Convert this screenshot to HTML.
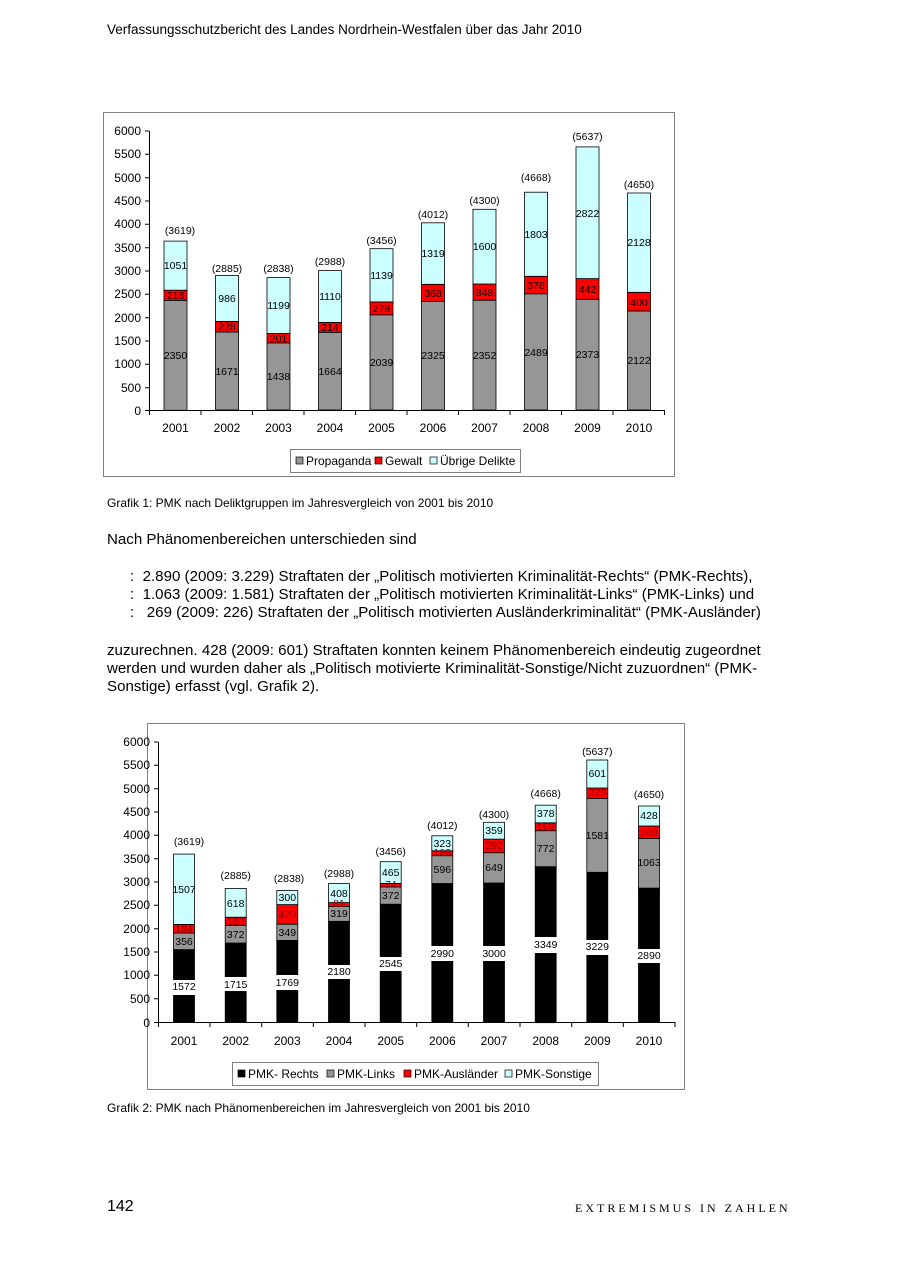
<!DOCTYPE html>
<html><head><meta charset="utf-8"><style>
body{margin:0;background:#fff;}
#p{position:relative;width:900px;height:1272px;overflow:hidden;font-family:"Liberation Sans",sans-serif;color:#000;}
.t{position:absolute;white-space:nowrap;}
.b{font-size:15.1px;}
</style></head><body><div id="p">
<div class="t" style="left:107px;top:22px;font-size:13.5px;">Verfassungsschutzbericht des Landes Nordrhein-Westfalen über das Jahr 2010</div>
<div class="t" style="left:107px;top:496px;font-size:12px;">Grafik 1: PMK nach Deliktgruppen im Jahresvergleich von 2001 bis 2010</div>
<div class="t b" style="left:107px;top:531px;">Nach Phänomenbereichen unterschieden sind</div>
<div class="t b" style="left:130px;top:568px;">:&nbsp; 2.890 (2009: 3.229) Straftaten der „Politisch motivierten Kriminalität-Rechts“ (PMK-Rechts),</div>
<div class="t b" style="left:130px;top:586px;">:&nbsp; 1.063 (2009: 1.581) Straftaten der „Politisch motivierten Kriminalität-Links“ (PMK-Links) und</div>
<div class="t b" style="left:130px;top:604px;">:&nbsp;&nbsp; 269 (2009: 226) Straftaten der „Politisch motivierten Ausländerkriminalität“ (PMK-Ausländer)</div>
<div class="t b" style="left:107px;top:642px;">zuzurechnen. 428 (2009: 601) Straftaten konnten keinem Phänomenbereich eindeutig zugeordnet</div>
<div class="t b" style="left:107px;top:660px;">werden und wurden daher als „Politisch motivierte Kriminalität-Sonstige/Nicht zuzuordnen“ (PMK-</div>
<div class="t b" style="left:107px;top:678px;">Sonstige) erfasst (vgl. Grafik 2).</div>
<div class="t" style="left:107px;top:1101px;font-size:12px;">Grafik 2: PMK nach Phänomenbereichen im Jahresvergleich von 2001 bis 2010</div>
<div class="t" style="left:107px;top:1198px;font-size:16px;">142</div>
<div class="t" style="left:575px;top:1201px;font-size:12px;font-family:'Liberation Serif',serif;letter-spacing:3px;">EXTREMISMUS IN ZAHLEN</div>

<svg width="900" height="1272" style="position:absolute;left:0;top:0" font-family="Liberation Sans, sans-serif">
<!-- chart 1 -->
<rect x="103.5" y="112.5" width="571" height="364" fill="none" stroke="#808080"/>
<g stroke="#000" stroke-width="1">
<line x1="149.5" y1="131" x2="149.5" y2="411"/><line x1="149" y1="410.5" x2="665" y2="410.5"/>
<path d="M145 131h4M145 154.3h4M145 177.7h4M145 201h4M145 224.3h4M145 247.7h4M145 271h4M145 294.3h4M145 317.7h4M145 341h4M145 364.3h4M145 387.7h4M145 410.5h4"/>
<path d="M149.5 410v5M201 410v5M252.5 410v5M304 410v5M355.5 410v5M407 410v5M458.5 410v5M510 410v5M561.5 410v5M613 410v5M664.5 410v5"/>
</g>
<g font-size="12" text-anchor="end"><text x="141" y="135">6000</text><text x="141" y="158">5500</text><text x="141" y="182">5000</text><text x="141" y="205">4500</text><text x="141" y="228">4000</text><text x="141" y="252">3500</text><text x="141" y="275">3000</text><text x="141" y="298">2500</text><text x="141" y="322">2000</text><text x="141" y="345">1500</text><text x="141" y="368">1000</text><text x="141" y="392">500</text><text x="141" y="415">0</text></g>
<g font-size="12" text-anchor="middle"><text x="175.5" y="432">2001</text><text x="227" y="432">2002</text><text x="278.5" y="432">2003</text><text x="330" y="432">2004</text><text x="381.5" y="432">2005</text><text x="433" y="432">2006</text><text x="484.5" y="432">2007</text><text x="536" y="432">2008</text><text x="587.5" y="432">2009</text><text x="639" y="432">2010</text></g>
<g stroke="#000" stroke-width="0.8">
<rect x="164" y="300.3" width="23" height="110" fill="#969696"/><rect x="164" y="290.2" width="23" height="10.1" fill="#f00"/><rect x="164" y="241.1" width="23" height="49.1" fill="#cff"/>
<rect x="215.5" y="332" width="23" height="78" fill="#969696"/><rect x="215.5" y="321.4" width="23" height="10.6" fill="#f00"/><rect x="215.5" y="275.4" width="23" height="46" fill="#cff"/>
<rect x="267" y="342.9" width="23" height="67.1" fill="#969696"/><rect x="267" y="333.5" width="23" height="9.4" fill="#f00"/><rect x="267" y="277.6" width="23" height="55.9" fill="#cff"/>
<rect x="318.5" y="332.3" width="23" height="77.7" fill="#969696"/><rect x="318.5" y="322.4" width="23" height="9.9" fill="#f00"/><rect x="318.5" y="270.6" width="23" height="51.8" fill="#cff"/>
<rect x="370" y="314.8" width="23" height="95.2" fill="#969696"/><rect x="370" y="301.9" width="23" height="12.9" fill="#f00"/><rect x="370" y="248.7" width="23" height="53.2" fill="#cff"/>
<rect x="421.5" y="301.5" width="23" height="108.5" fill="#969696"/><rect x="421.5" y="284.3" width="23" height="17.2" fill="#f00"/><rect x="421.5" y="222.8" width="23" height="61.5" fill="#cff"/>
<rect x="473" y="300.2" width="23" height="109.8" fill="#969696"/><rect x="473" y="284" width="23" height="16.2" fill="#f00"/><rect x="473" y="209.3" width="23" height="74.7" fill="#cff"/>
<rect x="524.5" y="293.8" width="23" height="116.2" fill="#969696"/><rect x="524.5" y="276.3" width="23" height="17.5" fill="#f00"/><rect x="524.5" y="192.2" width="23" height="84.1" fill="#cff"/>
<rect x="576" y="299.3" width="23" height="110.7" fill="#969696"/><rect x="576" y="278.6" width="23" height="20.7" fill="#f00"/><rect x="576" y="146.9" width="23" height="131.7" fill="#cff"/>
<rect x="627.5" y="311" width="23" height="99" fill="#969696"/><rect x="627.5" y="292.3" width="23" height="18.7" fill="#f00"/><rect x="627.5" y="193" width="23" height="99.3" fill="#cff"/>
</g>
<g font-size="10.5" text-anchor="middle">
<text x="175.5" y="359">2350</text><text x="175.5" y="299">218</text><text x="175.5" y="269">1051</text><text x="180" y="234">(3619)</text>
<text x="227" y="375">1671</text><text x="227" y="330">228</text><text x="227" y="302">986</text><text x="227" y="272">(2885)</text>
<text x="278.5" y="380">1438</text><text x="278.5" y="342">201</text><text x="278.5" y="309">1199</text><text x="278.5" y="272">(2838)</text>
<text x="330" y="375">1664</text><text x="330" y="331">214</text><text x="330" y="300">1110</text><text x="330" y="265">(2988)</text>
<text x="381.5" y="366">2039</text><text x="381.5" y="312">278</text><text x="381.5" y="279">1139</text><text x="381.5" y="244">(3456)</text>
<text x="433" y="359">2325</text><text x="433" y="297">368</text><text x="433" y="257">1319</text><text x="433" y="218">(4012)</text>
<text x="484.5" y="359">2352</text><text x="484.5" y="296">348</text><text x="484.5" y="250">1600</text><text x="484.5" y="204">(4300)</text>
<text x="536" y="356">2489</text><text x="536" y="289">376</text><text x="536" y="238">1803</text><text x="536" y="181">(4668)</text>
<text x="587.5" y="358">2373</text><text x="587.5" y="293">442</text><text x="587.5" y="217">2822</text><text x="587.5" y="140">(5637)</text>
<text x="639" y="364">2122</text><text x="639" y="306">400</text><text x="639" y="246">2128</text><text x="639" y="188">(4650)</text>
</g>
<rect x="290.5" y="449.5" width="230" height="23" fill="#fff" stroke="#808080"/>
<rect x="296" y="457" width="7" height="7" fill="#969696" stroke="#000" stroke-width="0.7"/><text x="306" y="465" font-size="12">Propaganda</text>
<rect x="375" y="457" width="7" height="7" fill="#f00" stroke="#000" stroke-width="0.7"/><text x="385" y="465" font-size="12">Gewalt</text>
<rect x="430" y="457" width="7" height="7" fill="#cff" stroke="#000" stroke-width="0.7"/><text x="440" y="465" font-size="12">Übrige Delikte</text>

<!-- chart 2 -->
<rect x="147.5" y="723.5" width="537" height="366" fill="none" stroke="#808080"/>
<g stroke="#000" stroke-width="1">
<line x1="158.5" y1="742" x2="158.5" y2="1023"/><line x1="158" y1="1022.5" x2="675" y2="1022.5"/>
<path d="M154 742h4M154 765.3h4M154 788.7h4M154 812h4M154 835.3h4M154 858.7h4M154 882h4M154 905.3h4M154 928.7h4M154 952h4M154 975.3h4M154 998.7h4M154 1022.5h4"/>
<path d="M158.5 1022v5M210 1022v5M261.7 1022v5M313.3 1022v5M365 1022v5M416.7 1022v5M468.3 1022v5M520 1022v5M571.7 1022v5M623.3 1022v5M675 1022v5"/>
</g>
<g font-size="12" text-anchor="end"><text x="150" y="746">6000</text><text x="150" y="769">5500</text><text x="150" y="793">5000</text><text x="150" y="816">4500</text><text x="150" y="839">4000</text><text x="150" y="863">3500</text><text x="150" y="886">3000</text><text x="150" y="909">2500</text><text x="150" y="933">2000</text><text x="150" y="956">1500</text><text x="150" y="979">1000</text><text x="150" y="1003">500</text><text x="150" y="1027">0</text></g>
<g font-size="12" text-anchor="middle"><text x="184" y="1045">2001</text><text x="235.7" y="1045">2002</text><text x="287.3" y="1045">2003</text><text x="339" y="1045">2004</text><text x="390.7" y="1045">2005</text><text x="442.3" y="1045">2006</text><text x="494" y="1045">2007</text><text x="545.7" y="1045">2008</text><text x="597.3" y="1045">2009</text><text x="649" y="1045">2010</text></g>
<g stroke="#000" stroke-width="0.8">
<rect x="173.5" y="949.6" width="21" height="73" fill="#000"/><rect x="173.5" y="933" width="21" height="16.6" fill="#969696"/><rect x="173.5" y="924.4" width="21" height="8.6" fill="#f00"/><rect x="173.5" y="854.1" width="21" height="70.3" fill="#cff"/>
<rect x="225.2" y="943" width="21" height="79.5" fill="#000"/><rect x="225.2" y="925.6" width="21" height="17.4" fill="#969696"/><rect x="225.2" y="917.2" width="21" height="8.4" fill="#f00"/><rect x="225.2" y="888.4" width="21" height="28.8" fill="#cff"/>
<rect x="276.8" y="940.4" width="21" height="82" fill="#000"/><rect x="276.8" y="924.2" width="21" height="16.2" fill="#969696"/><rect x="276.8" y="904.6" width="21" height="19.6" fill="#f00"/><rect x="276.8" y="890.6" width="21" height="14" fill="#cff"/>
<rect x="328.5" y="921.3" width="21" height="101" fill="#000"/><rect x="328.5" y="906.4" width="21" height="14.9" fill="#969696"/><rect x="328.5" y="902.6" width="21" height="3.8" fill="#f00"/><rect x="328.5" y="883.6" width="21" height="19" fill="#cff"/>
<rect x="380.2" y="904.2" width="21" height="118" fill="#000"/><rect x="380.2" y="886.9" width="21" height="17.3" fill="#969696"/><rect x="380.2" y="883.4" width="21" height="3.5" fill="#f00"/><rect x="380.2" y="861.7" width="21" height="21.7" fill="#cff"/>
<rect x="431.8" y="883.5" width="21" height="139" fill="#000"/><rect x="431.8" y="855.7" width="21" height="27.8" fill="#969696"/><rect x="431.8" y="850.8" width="21" height="4.9" fill="#f00"/><rect x="431.8" y="835.8" width="21" height="15" fill="#cff"/>
<rect x="483.5" y="883" width="21" height="139.5" fill="#000"/><rect x="483.5" y="852.7" width="21" height="30.3" fill="#969696"/><rect x="483.5" y="839.1" width="21" height="13.6" fill="#f00"/><rect x="483.5" y="822.3" width="21" height="16.8" fill="#cff"/>
<rect x="535.2" y="866.7" width="21" height="156" fill="#000"/><rect x="535.2" y="830.7" width="21" height="36" fill="#969696"/><rect x="535.2" y="822.8" width="21" height="7.9" fill="#f00"/><rect x="535.2" y="805.2" width="21" height="17.6" fill="#cff"/>
<rect x="586.8" y="872.3" width="21" height="150" fill="#000"/><rect x="586.8" y="798.5" width="21" height="73.8" fill="#969696"/><rect x="586.8" y="788" width="21" height="10.5" fill="#f00"/><rect x="586.8" y="760" width="21" height="28" fill="#cff"/>
<rect x="638.5" y="888.1" width="21" height="134.4" fill="#000"/><rect x="638.5" y="838.5" width="21" height="49.6" fill="#969696"/><rect x="638.5" y="826" width="21" height="12.5" fill="#f00"/><rect x="638.5" y="806" width="21" height="20" fill="#cff"/>
</g>
<g fill="#fff">
<rect x="172" y="980" width="25" height="15"/><rect x="223" y="977" width="25" height="14"/><rect x="275" y="975" width="25" height="15"/><rect x="326" y="965" width="25" height="14"/><rect x="378" y="957" width="25" height="14"/><rect x="429" y="946" width="27" height="15"/><rect x="481" y="946" width="27" height="15"/><rect x="533" y="937" width="26" height="16"/><rect x="584" y="940" width="27" height="15"/><rect x="636" y="949" width="27" height="14"/>
</g>
<g font-size="10.5" text-anchor="middle">
<text x="184" y="990">1572</text><text x="184" y="945">356</text><text x="184" y="932" fill="#800">184</text><text x="184" y="893">1507</text><text x="189" y="845">(3619)</text>
<text x="235.7" y="988">1715</text><text x="235.7" y="938">372</text><text x="235.7" y="925" fill="#800">180</text><text x="235.7" y="907">618</text><text x="235.7" y="879">(2885)</text>
<text x="287.3" y="986">1769</text><text x="287.3" y="936">349</text><text x="287.3" y="918" fill="#800">420</text><text x="287.3" y="901">300</text><text x="289" y="882">(2838)</text>
<text x="339" y="975">2180</text><text x="339" y="917">319</text><text x="339" y="907" fill="#800">81</text><text x="339" y="897">408</text><text x="339" y="877">(2988)</text>
<text x="390.7" y="967">2545</text><text x="390.7" y="899">372</text><text x="390.7" y="888" fill="#800">74</text><text x="390.7" y="876">465</text><text x="390.7" y="855">(3456)</text>
<text x="442.3" y="957">2990</text><text x="442.3" y="873">596</text><text x="442.3" y="856" fill="#800">103</text><text x="442.3" y="847">323</text><text x="442.3" y="829">(4012)</text>
<text x="494" y="957">3000</text><text x="494" y="871">649</text><text x="494" y="849" fill="#800">292</text><text x="494" y="834">359</text><text x="494" y="818">(4300)</text>
<text x="545.7" y="948">3349</text><text x="545.7" y="852">772</text><text x="545.7" y="830" fill="#800">169</text><text x="545.7" y="817">378</text><text x="545.7" y="797">(4668)</text>
<text x="597.3" y="950">3229</text><text x="597.3" y="839">1581</text><text x="597.3" y="796" fill="#800">226</text><text x="597.3" y="777">601</text><text x="597.3" y="755">(5637)</text>
<text x="649" y="959">2890</text><text x="649" y="866">1063</text><text x="649" y="836" fill="#800">269</text><text x="649" y="819">428</text><text x="649" y="798">(4650)</text>
</g>
<rect x="232.5" y="1062.5" width="366" height="23" fill="#fff" stroke="#808080"/>
<rect x="238" y="1070" width="7" height="7" fill="#000" stroke="#000" stroke-width="0.7"/><text x="248" y="1078" font-size="12">PMK- Rechts</text>
<rect x="327" y="1070" width="7" height="7" fill="#969696" stroke="#000" stroke-width="0.7"/><text x="337" y="1078" font-size="12">PMK-Links</text>
<rect x="404" y="1070" width="7" height="7" fill="#f00" stroke="#000" stroke-width="0.7"/><text x="414" y="1078" font-size="12">PMK-Ausländer</text>
<rect x="505" y="1070" width="7" height="7" fill="#cff" stroke="#000" stroke-width="0.7"/><text x="515" y="1078" font-size="12">PMK-Sonstige</text>
</svg>
</div></body></html>
